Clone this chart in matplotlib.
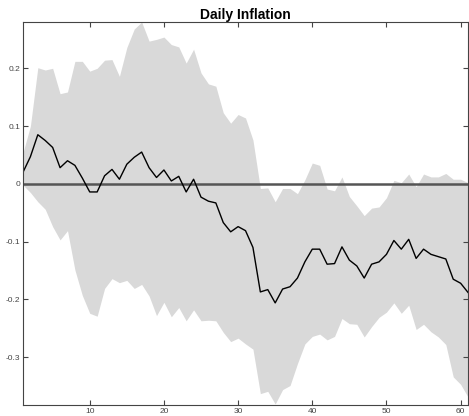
import numpy as np
import matplotlib
matplotlib.use("Agg")
import matplotlib.pyplot as plt

# impulse response of daily inflation, median and credible band (horizons 1..61)
horizon = np.arange(1, 62)
irf_median = [0.020, 0.047, 0.085, 0.075, 0.063, 0.028, 0.040, 0.032, 0.010, -0.014,
              -0.014, 0.014, 0.025, 0.008, 0.034, 0.046, 0.055, 0.028, 0.011, 0.024,
              0.005, 0.013, -0.014, 0.008, -0.023, -0.030, -0.033, -0.067, -0.083, -0.074,
              -0.081, -0.110, -0.187, -0.183, -0.206, -0.182, -0.178, -0.163, -0.135, -0.113,
              -0.113, -0.139, -0.138, -0.109, -0.132, -0.142, -0.163, -0.139, -0.135, -0.122,
              -0.098, -0.113, -0.096, -0.129, -0.113, -0.122, -0.126, -0.130, -0.165, -0.172,
              -0.188]
irf_upper = [0.054, 0.100, 0.201, 0.197, 0.200, 0.156, 0.159, 0.212, 0.212, 0.195,
             0.200, 0.214, 0.215, 0.186, 0.236, 0.268, 0.280, 0.247, 0.250, 0.254,
             0.241, 0.237, 0.209, 0.233, 0.192, 0.173, 0.169, 0.123, 0.105, 0.120,
             0.114, 0.076, -0.008, -0.007, -0.031, -0.008, -0.008, -0.017, 0.007, 0.036,
             0.032, -0.009, -0.012, 0.012, -0.022, -0.038, -0.055, -0.042, -0.040, -0.024,
             0.006, 0.002, 0.017, -0.005, 0.017, 0.012, 0.012, 0.018, 0.008, 0.008,
             0.002]
irf_lower = [-0.002, -0.015, -0.031, -0.044, -0.074, -0.097, -0.081, -0.149, -0.193, -0.224,
             -0.229, -0.181, -0.164, -0.171, -0.167, -0.181, -0.174, -0.194, -0.228, -0.205,
             -0.230, -0.214, -0.237, -0.218, -0.237, -0.236, -0.237, -0.257, -0.273, -0.267,
             -0.277, -0.286, -0.363, -0.359, -0.381, -0.356, -0.349, -0.311, -0.277, -0.264,
             -0.260, -0.270, -0.264, -0.233, -0.242, -0.243, -0.265, -0.247, -0.231, -0.222,
             -0.206, -0.224, -0.210, -0.252, -0.243, -0.256, -0.265, -0.278, -0.334, -0.347,
             -0.369]

xticks = [10, 20, 30, 40, 50, 60]
yticks = [-0.3, -0.2, -0.1, 0, 0.1, 0.2]
yticklabels = ['-0.3', '-0.2', '-0.1', '0', '0.1', '0.2']

plt.rcParams['font.family'] = ['Liberation Sans', 'DejaVu Sans']

fig = plt.figure(figsize=(4.69, 4.16), dpi=100)
ax = fig.add_axes([0.049, 0.026, 0.949, 0.921])

ax.fill_between(horizon, irf_lower, irf_upper, color='#d9d9d9', linewidth=0)
ax.axhline(0, color='#555555', linewidth=1.8)
ax.plot(horizon, irf_median, color='black', linewidth=1.0)

ax.set_xlim(1, 61)
ax.set_ylim(-0.383, 0.28)
ax.set_xticks(xticks)
ax.set_yticks(yticks)
ax.set_yticklabels(yticklabels)
ax.tick_params(direction='in', length=3.5, width=0.8, colors='#444444',
               labelsize=6, top=True, right=True, pad=2)
for side in ax.spines.values():
    side.set_color('#444444')
    side.set_linewidth(0.8)

ax.set_title('Daily Inflation', fontsize=10, fontweight='bold', pad=2)

fig.savefig('out.png', dpi=100)
